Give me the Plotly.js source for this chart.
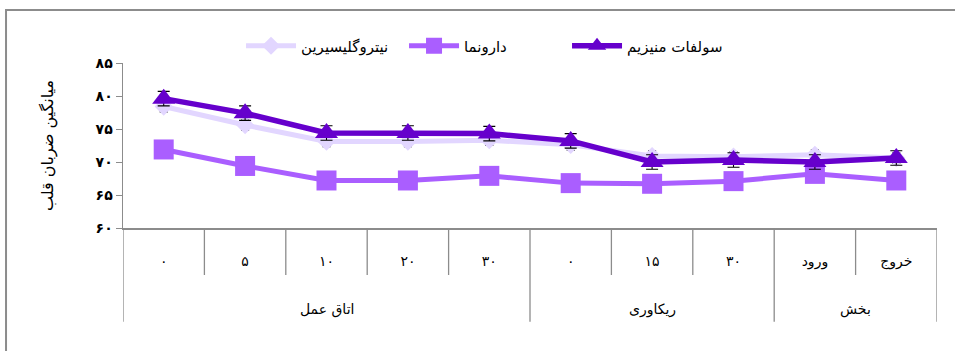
<!DOCTYPE html>
<html>
<head>
<meta charset="utf-8">
<script src="https://cdn.plot.ly/plotly-3.0.1.min.js"></script>
<style>html,body{margin:0;padding:0;background:#fff;}#chart{width:955px;height:351px;}</style>
</head>
<body>
<div id="chart"></div>
<script>
var groups = ['اتاق عمل','اتاق عمل','اتاق عمل','اتاق عمل','اتاق عمل','ریکاوری','ریکاوری','ریکاوری','بخش','بخش'];
var subLabels = ['۰','۵','۱۰','۲۰','۳۰','۰','۱۵','۳۰','ورود','خروج'];
var nitroglycerin = [78.4, 75.6, 73.1, 73.1, 73.3, 72.6, 70.9, 70.8, 71.1, 70.6];
var placebo = [71.9, 69.4, 67.2, 67.2, 67.9, 66.8, 66.7, 67.1, 68.2, 67.2];
var magnesium = [79.6, 77.4, 74.4, 74.4, 74.3, 73.2, 70.0, 70.3, 70.0, 70.6];
var nitroErr = [0.8, 0.8, 0.8, 0.8, 0.8, 0.8, 0.8, 0.8, 0.8, 0.8];
var magErr = [1.1, 1.1, 1.1, 1.1, 1.1, 1.1, 1.1, 1.1, 1.1, 1.1];
var yTickVals = [60, 65, 70, 75, 80, 85];
var yTickText = ['۶۰','۶۵','۷۰','۷۵','۸۰','۸۵'];
var names = ['نیتروگلیسیرین','دارونما','سولفات منیزیم'];

var FONT = 'DejaVu Sans, sans-serif';
var GRAY = '#8c8c8c';
var xIdx = subLabels.map(function (_, i) { return i; });

var traces = [
  {x: xIdx, y: nitroglycerin, name: names[0], type: 'scatter', mode: 'lines+markers',
   line: {color: '#E2D6FF', width: 5}, marker: {symbol: 'diamond', size: 14, color: '#E2D6FF'},
   error_y: {type: 'data', array: nitroErr, color: '#000', thickness: 1.1, width: 4}},
  {x: xIdx, y: placebo, name: names[1], type: 'scatter', mode: 'lines+markers',
   line: {color: '#AA5EFF', width: 5}, marker: {symbol: 'square', size: 20, color: '#AA5EFF'}},
  {x: xIdx, y: magnesium, name: names[2], type: 'scatter', mode: 'lines+markers',
   line: {color: '#6600CC', width: 5.5}, marker: {symbol: 'triangle-up', size: 20, color: '#6600CC'},
   error_y: {type: 'data', array: magErr, color: '#000', thickness: 1.1, width: 6}}
];

// table lines under the x axis and group labels
var shapes = [];
var annotations = [];
var SHORT = -0.285, LONG = -0.568;
function vline(xv, yb) {
  shapes.push({type: 'line', xref: 'x', yref: 'paper', x0: xv, x1: xv, y0: 0, y1: yb,
               line: {color: GRAY, width: 1.3}});
}
vline(-0.5, LONG);
vline(subLabels.length - 0.5, LONG);
var gStart = 0;
for (var i = 1; i <= groups.length; i++) {
  if (i === groups.length || groups[i] !== groups[i - 1]) {
    annotations.push({xref: 'x', yref: 'paper', x: (gStart + i - 1) / 2, y: -0.491,
                      yanchor: 'middle', xanchor: 'center', showarrow: false, text: groups[i - 1],
                      font: {family: FONT, size: 14, color: '#000'}});
    if (i < groups.length) vline(i - 0.5, LONG);
    gStart = i;
  } else {
    vline(i - 0.5, SHORT);
  }
}
// outer frame
shapes.push({type: 'rect', xref: 'paper', yref: 'paper', x0: -0.1437, x1: 1.2, y0: -1.0, y1: 1.321,
             line: {color: GRAY, width: 2}, fillcolor: 'rgba(0,0,0,0)', layer: 'below'});

var layout = {
  width: 955, height: 351,
  margin: {l: 123, r: 18, t: 63, b: 123},
  paper_bgcolor: '#fff', plot_bgcolor: '#fff',
  font: {family: FONT, size: 13, color: '#000'},
  showlegend: true,
  legend: {orientation: 'h', x: 0.145, y: 1.103, xanchor: 'left', yanchor: 'middle',
           font: {family: FONT, size: 15, color: '#000'}, entrywidth: 98, itemwidth: 50,
           bgcolor: 'rgba(0,0,0,0)'},
  xaxis: {range: [-0.5, subLabels.length - 0.5], tickvals: xIdx, ticktext: subLabels,
          showline: true, linecolor: GRAY, linewidth: 1.5, ticks: '', ticklabelstandoff: 20,
          showgrid: false, zeroline: false, fixedrange: true,
          tickfont: {family: FONT, size: 14, color: '#000'}},
  yaxis: {range: [60, 85], tickvals: yTickVals, ticktext: yTickText, showline: true,
          linecolor: GRAY, linewidth: 1.5, ticks: 'outside', ticklen: 6, tickcolor: GRAY,
          showgrid: false, zeroline: false,
          tickfont: {family: FONT, size: 14, color: '#000', weight: 'bold'},
          title: {text: 'میانگین ضربان قلب', font: {family: FONT, size: 16, color: '#000'}, standoff: 38}},
  shapes: shapes,
  annotations: annotations
};

Plotly.newPlot('chart', traces, layout, {displayModeBar: false, staticPlot: true});
</script>
</body>
</html>
